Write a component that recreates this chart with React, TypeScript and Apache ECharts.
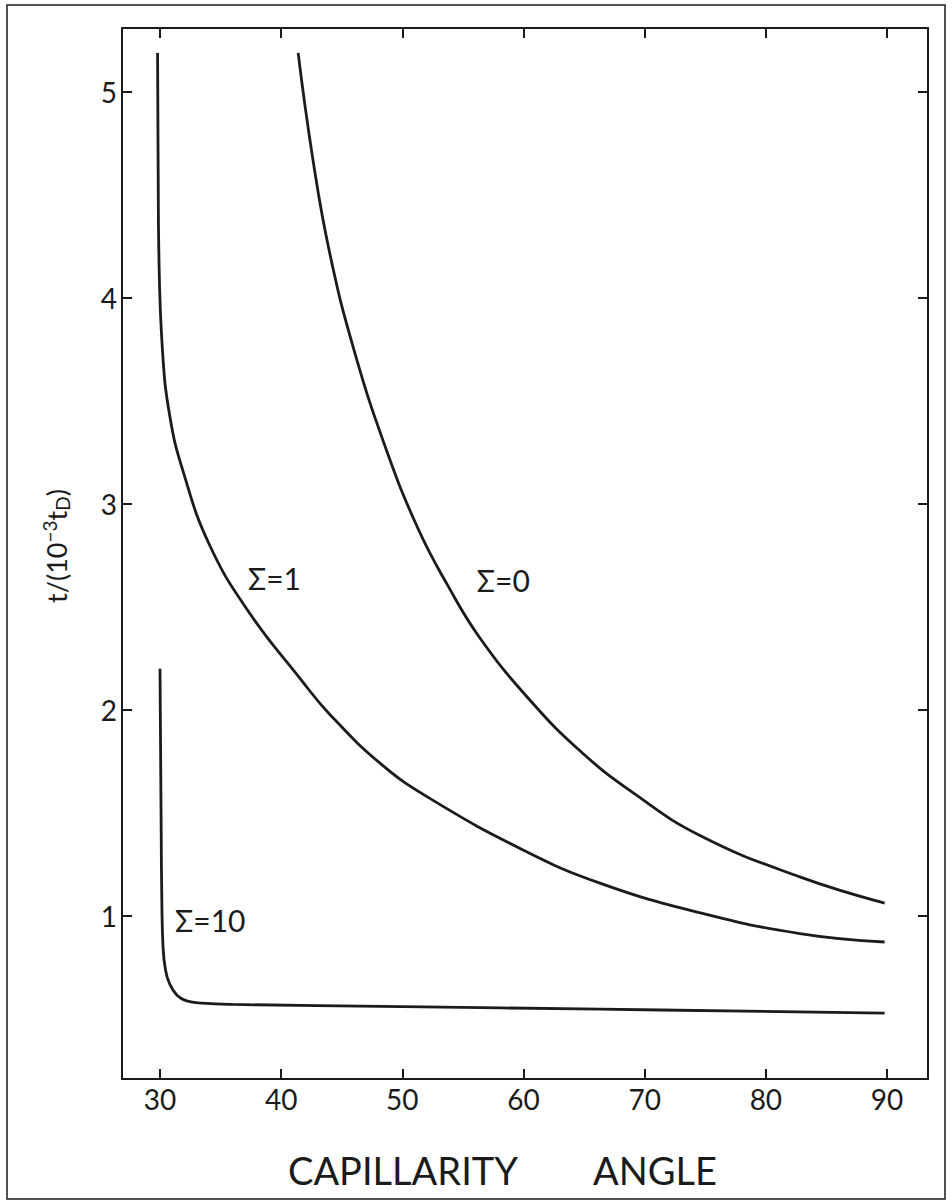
import React, { useEffect, useRef } from "react";
import * as echarts from "echarts";

// Capillarity angle (deg) and t/(10^-3 t_D) for each Σ curve
const sigma0X = [41.4, 42.6, 44.0, 46.0, 48.7, 51.3, 53.7, 56.4, 60.5, 64.7, 69.0, 74.6, 82.8, 89.8];
const sigma0Y = [5.19, 4.68, 4.22, 3.75, 3.26, 2.88, 2.61, 2.35, 2.05, 1.8, 1.6, 1.39, 1.19, 1.063];

const sigma1X = [29.8, 29.85, 29.9, 30.2, 30.8, 31.9, 34.1, 37.4, 41.6, 44.0, 48.2, 52.3, 60.0, 66.3, 74.6, 82.8, 89.8];
const sigma1Y = [5.19, 4.6, 4.24, 3.75, 3.43, 3.16, 2.8, 2.47, 2.15, 1.98, 1.74, 1.57, 1.32, 1.16, 1.015, 0.915, 0.874];

const sigma10X = [30.0, 30.05, 30.1, 30.15, 30.25, 30.45, 30.8, 31.4, 32.2, 33.5, 36.0, 50.0, 66.3, 89.8];
const sigma10Y = [2.2, 1.8, 1.4, 1.08, 0.85, 0.74, 0.67, 0.616, 0.588, 0.577, 0.571, 0.56, 0.548, 0.529];

const xTicks = [30, 40, 50, 60, 70, 80, 90];
const yTicks = [1, 2, 3, 4, 5];

const curveLabels = ["Σ=0", "Σ=1", "Σ=10"];
const labelX = [56.15, 37.26, 31.24];
const labelY = [2.63, 2.64, 0.98];

const INK = "#1b1b1b";
const FONT = "Lato, 'Open Sans', sans-serif";

function zip(xs: number[], ys: number[]) {
  return xs.map((x, i) => [x, ys[i]]);
}

export default function App() {
  const ref = useRef<HTMLDivElement>(null);
  useEffect(() => {
    if (!ref.current) return;
    const chart = echarts.init(ref.current, null, { renderer: "svg" });
    const axisX = (pos: "bottom" | "top", labels: boolean) => ({
      type: "value",
      position: pos,
      min: 26.864,
      max: 93.38,
      axisLine: { show: true, onZero: false, lineStyle: { color: INK, width: 2 } },
      axisTick: { show: true, inside: true, length: 10, customValues: xTicks, lineStyle: { color: INK, width: 2 } },
      axisLabel: {
        show: labels,
        customValues: xTicks,
        color: INK,
        fontSize: 28,
        fontFamily: FONT,
        margin: 6,
      },
      splitLine: { show: false },
    });
    const axisY = (pos: "left" | "right", labels: boolean) => ({
      type: "value",
      position: pos,
      min: 0.209,
      max: 5.311,
      axisLine: { show: true, onZero: false, lineStyle: { color: INK, width: 2 } },
      axisTick: { show: true, inside: true, length: 10, customValues: yTicks, lineStyle: { color: INK, width: 2 } },
      axisLabel: {
        show: labels,
        customValues: yTicks,
        color: INK,
        fontSize: 28,
        fontFamily: FONT,
        margin: 5,
      },
      splitLine: { show: false },
    });
    const line = (name: string, xs: number[], ys: number[]) => ({
      name,
      type: "line",
      data: zip(xs, ys),
      showSymbol: false,
      smooth: 0.45,
      lineStyle: { color: INK, width: 2.8 },
      xAxisIndex: 0,
      yAxisIndex: 0,
    });
    chart.setOption({
      animation: false,
      backgroundColor: "#ffffff",
      grid: { left: 122, top: 28, width: 806, height: 1051, containLabel: false },
      xAxis: [axisX("bottom", true), axisX("top", false)],
      yAxis: [axisY("left", true), axisY("right", false)],
      series: [
        line("Σ=0", sigma0X, sigma0Y),
        line("Σ=1", sigma1X, sigma1Y),
        line("Σ=10", sigma10X, sigma10Y),
        {
          type: "scatter",
          symbolSize: 0,
          itemStyle: { opacity: 1, color: INK },
          data: labelX.map((x, i) => ({ value: [x, labelY[i]], name: curveLabels[i] })),
          label: {
            show: true,
            position: "right",
            distance: 0,
            formatter: (p: any) => p.name,
            color: INK,
            opacity: 1,
            fontSize: 30,
            fontFamily: FONT,
          },
          emphasis: { disabled: true },
          xAxisIndex: 0,
          yAxisIndex: 0,
        },
      ],
      graphic: [
        {
          type: "rect",
          shape: { x: 7, y: 5, width: 938, height: 1194 },
          style: { fill: "none", stroke: INK, lineWidth: 1.5 },
          silent: true,
        },
        {
          type: "text",
          x: 288,
          y: 1189,
          style: { text: "CAPILLARITY", fill: INK, fontSize: 38, fontFamily: FONT, textAlign: "left", textVerticalAlign: "bottom" },
        },
        {
          type: "text",
          x: 593,
          y: 1189,
          style: { text: "ANGLE", fill: INK, fontSize: 38, fontFamily: FONT, textAlign: "left", textVerticalAlign: "bottom" },
        },
        {
          type: "text",
          x: 56,
          y: 546,
          rotation: Math.PI / 2,
          style: {
            text: "{n|t/(10}{sup|−3}{n|t}{sub|D}{n|)}",
            fill: INK,
            align: "center",
            verticalAlign: "middle",
            rich: {
              n: { fontSize: 27, fontFamily: FONT, fill: INK, verticalAlign: "middle" },
              sup: { fontSize: 19, fontFamily: FONT, fill: INK, verticalAlign: "top", padding: [0, 0, 13, 0] },
              sub: { fontSize: 19, fontFamily: FONT, fill: INK, verticalAlign: "bottom", padding: [13, 0, 0, 0] },
            },
          },
        },
      ],
    });
    return () => chart.dispose();
  }, []);
  return <div ref={ref} style={{ position: "absolute", left: 0, top: 0, width: 952, height: 1202, background: "#fff" }} />;
}
